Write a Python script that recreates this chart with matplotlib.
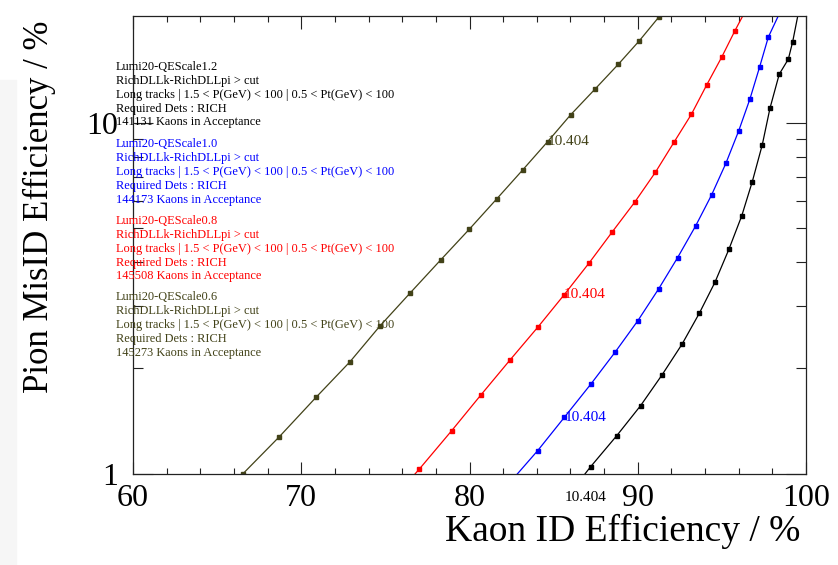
import numpy as np
import matplotlib
matplotlib.use("Agg")
import matplotlib.pyplot as plt
from matplotlib.patches import Rectangle
from matplotlib.ticker import MultipleLocator, FixedLocator, NullFormatter

plt.rcParams['font.family'] = ['Liberation Serif', 'DejaVu Serif']

# Kaon ID efficiency (%) vs pion misID efficiency (%) for each QE scale
olive_x = [66.52, 68.70, 70.88, 72.90, 74.68, 76.46, 78.29, 79.99, 81.62, 83.16,
           84.65, 86.01, 87.46, 88.85, 90.09, 91.28]
olive_y = [1.0, 1.277, 1.653, 2.087, 2.638, 3.269, 4.067, 4.972, 6.065, 7.33,
           8.83, 10.52, 12.45, 14.66, 17.08, 20.03]

red_x = [76.76, 77.02, 78.94, 80.68, 82.41, 84.09, 85.62, 87.10, 88.47, 89.82,
         91.05, 92.16, 93.19, 94.10, 94.99, 95.78, 96.24]
red_y = [1.0, 1.033, 1.328, 1.679, 2.111, 2.627, 3.233, 3.98, 4.875, 5.935,
         7.22, 8.80, 10.56, 12.80, 15.35, 18.27, 20.1]

blue_x = [82.84, 84.05, 85.64, 87.22, 88.65, 90.01, 91.24, 92.37, 93.44, 94.39,
          95.24, 96.00, 96.67, 97.25, 97.76, 98.35]
blue_y = [1.0, 1.165, 1.45, 1.804, 2.22, 2.732, 3.362, 4.128, 5.08, 6.225,
          7.66, 9.47, 11.68, 14.43, 17.5, 20.1]

black_x = [86.86, 87.20, 88.75, 90.17, 91.44, 92.63, 93.66, 94.59, 95.42, 96.18,
           96.81, 97.40, 97.86, 98.41, 98.95, 99.21, 99.51]
black_y = [1.0, 1.049, 1.285, 1.565, 1.913, 2.34, 2.867, 3.513, 4.362, 5.425,
           6.795, 8.64, 10.99, 13.73, 15.15, 17.0, 20.1]

# cut value labels placed on each curve
cut_label = "10.404"
label_x = [84.65, 85.62, 85.64, 85.67]
label_y = [8.83, 3.233, 1.45, 0.86]

names = ["Lumi20-QEScale1.2", "Lumi20-QEScale1.0", "Lumi20-QEScale0.8", "Lumi20-QEScale0.6"]
kaon_counts = ["141131", "144173", "145508", "145273"]
info_lines = ["RichDLLk-RichDLLpi > cut",
              "Long tracks | 1.5 < P(GeV) < 100 | 0.5 < Pt(GeV) < 100",
              "Required Dets : RICH"]

OLIVE = '#424218'
series = [
    (olive_x, olive_y, OLIVE, slice(0, None)),
    (red_x, red_y, '#ff0000', slice(1, -1)),
    (blue_x, blue_y, '#0000ff', slice(1, -1)),
    (black_x, black_y, '#000000', slice(1, -1)),
]
label_colors = [OLIVE, '#ff0000', '#0000ff', '#000000']
block_colors = ['#000000', '#0000ff', '#ff0000', OLIVE]

W, H = 838, 565
fig = plt.figure(figsize=(W / 100, H / 100), dpi=100)
fig.patches.append(Rectangle((0, 0), 16 / W, (H - 80) / H, transform=fig.transFigure,
                             color='#f6f6f6', zorder=-5))

ax = fig.add_axes([133 / W, (H - 474) / H, 673 / W, 458 / H])

for x, y, c, me in series:
    ax.plot(x, y, color=c, lw=0.9, marker='s', ms=2.2, markevery=me,
            mec=c, mfc=c)

for lx, ly, c in zip(label_x, label_y, label_colors):
    ax.text(lx, ly, cut_label, color=c, fontsize=11, ha='left', va='center',
            clip_on=False)

ax.set_yscale('log')
ax.set_xlim(60, 100)
ax.set_ylim(1, 20.1)

ax.xaxis.set_major_locator(MultipleLocator(10))
ax.xaxis.set_minor_locator(MultipleLocator(2))
ax.yaxis.set_major_locator(FixedLocator([1, 10]))
ax.yaxis.set_minor_locator(FixedLocator([2, 3, 4, 5, 6, 7, 8, 9]))
ax.yaxis.set_minor_formatter(NullFormatter())
ax.set_yticklabels(['1', '10'])

ax.tick_params(which='both', direction='in', top=True, right=True,
               color='#222222', width=0.8)
ax.tick_params(axis='x', which='major', length=9, pad=7, labelsize=23)
ax.tick_params(axis='x', which='minor', length=4.5)
ax.tick_params(axis='y', which='major', length=14.5, pad=11, labelsize=23)
ax.tick_params(axis='y', which='minor', length=7)
for s in ax.spines.values():
    s.set_linewidth(0.9)
    s.set_color('#222222')

ax.set_xlabel("Kaon ID Efficiency / %", fontsize=27, loc='right')
ax.xaxis.set_label_coords(0.991, -0.088)
ax.set_ylabel("Pion MisID Efficiency / %", fontsize=25, loc='top')
ax.yaxis.set_label_coords(-0.114, 0.99)

# text blocks describing each sample
line_h = 13.95
block_top = [66.7, 144.3, 220.7, 297.0]
for name, count, c, y0 in zip(names, kaon_counts, block_colors, block_top):
    lines = [name] + info_lines + [count + " Kaons in Acceptance"]
    for i, t in enumerate(lines):
        fig.text(116 / W, 1 - (y0 + i * line_h) / H, t, color=c, fontsize=8.9,
                 ha='left', va='center')

fig.savefig("out.png", dpi=100)
